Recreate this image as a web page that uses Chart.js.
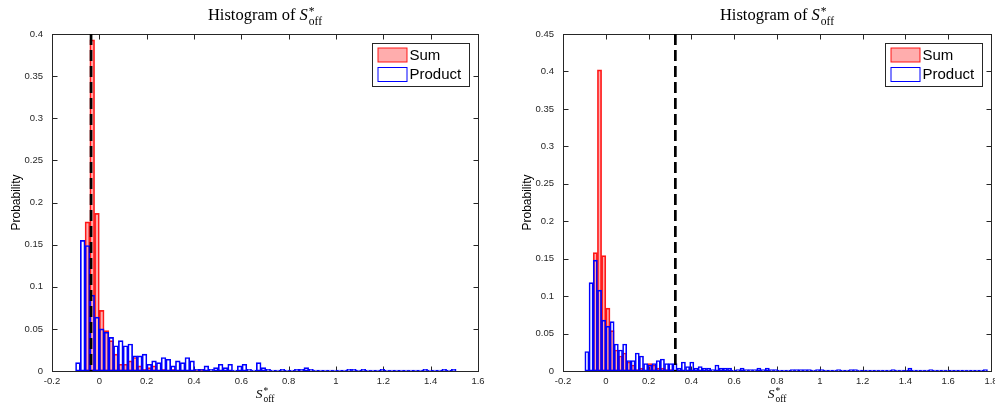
<!DOCTYPE html>
<html>
<head>
<meta charset="utf-8">
<script src="https://cdn.jsdelivr.net/npm/chart.js@4.4.1/dist/chart.umd.min.js"></script>
<style>
  body { margin: 0; background: #fff; }
  #wrap { position: relative; width: 995px; height: 404px; overflow: hidden; }
  canvas { position: absolute; top: 0; }
  .title, .xlabel { position: absolute; text-align: center; white-space: nowrap; color: #000;
    font-family: "Liberation Serif", "Times New Roman", serif; }
  .title { top: 5px; font-size: 16.5px; line-height: 20px; }
  .xlabel { top: 387px; font-size: 13.5px; line-height: 14px; }
  .ss { display: inline-block; vertical-align: -0.4em; font-size: 0.7em; line-height: 0.85; margin-left: 1px; text-align: left; }
  .ss span { display: block; }
</style>
</head>
<body>
<div id="wrap">
  <canvas id="left" width="497" height="404" style="left:0"></canvas>
  <canvas id="right" width="498" height="404" style="left:497px"></canvas>
  <div class="title" style="left:52px;width:426px">Histogram of <i>S</i><span class="ss"><span>*</span><span>off</span></span></div>
  <div class="title" style="left:563px;width:428px">Histogram of <i>S</i><span class="ss"><span>*</span><span>off</span></span></div>
  <div class="xlabel" style="left:52px;width:426px"><i>S</i><span class="ss"><span>*</span><span>off</span></span></div>
  <div class="xlabel" style="left:563px;width:428px"><i>S</i><span class="ss"><span>*</span><span>off</span></span></div>
</div>
<script>
// left panel: probability per bin, bins start at index * width
const leftBinWidth = 0.0201;
const leftSumStart = -3;
const leftSum = [0.177, 0.393, 0.187, 0.072, 0.048, 0.036, 0.020, 0.008,
  0.008, 0.012, 0.016, 0.006, 0.002, 0.004, 0.006, 0, 0.002, 0,
  0.002, 0, 0, 0, 0, 0, 0.002];
const leftProductStart = -5;
const leftProduct = [0.010, 0.155, 0.149, 0.090, 0.064,
  0.050, 0.046, 0.040, 0.030, 0.036,
  0.030, 0.032, 0.018, 0.018, 0.020,
  0.008, 0.012, 0.010, 0.016, 0.014,
  0.006, 0.012, 0.010, 0.016, 0.012,
  0.002, 0.002, 0.006, 0.002, 0.004,
  0.008, 0.004, 0.008, 0, 0.006,
  0.008, 0.002, 0, 0.010, 0.004,
  0.002, 0, 0, 0.002, 0,
  0, 0.002, 0.002, 0.004, 0.002,
  0, 0, 0, 0, 0,
  0, 0, 0.002, 0.002, 0,
  0.002, 0, 0, 0, 0.002,
  0, 0, 0, 0, 0,
  0, 0, 0, 0.002, 0,
  0, 0, 0.002, 0, 0.002];
const leftMarker = -0.035;

// right panel
const rightBinWidth = 0.0196;
const rightSumStart = -3;
const rightSum = [0.158, 0.402, 0.154, 0.084, 0.054, 0.028, 0.020, 0.024,
  0.012, 0.008, 0.002, 0.004, 0, 0.010, 0.008, 0.004, 0.004, 0.002, 0.002];
const rightProductStart = -5;
const rightProduct = [0.026, 0.118, 0.148, 0.108, 0.068,
  0.060, 0.066, 0.036, 0.028, 0.036,
  0.014, 0.014, 0.024, 0.020, 0.010,
  0.008, 0.010, 0.014, 0.016, 0.010,
  0.010, 0.010, 0.004, 0.012, 0.006,
  0.012, 0.004, 0.006, 0.004, 0.004,
  0.002, 0.008, 0.004, 0.004, 0.004,
  0, 0.002, 0.004, 0.002, 0.002,
  0.002, 0.004, 0.002, 0.004, 0.002,
  0.002, 0, 0, 0, 0.002,
  0.002, 0.002, 0.002, 0.002, 0,
  0.002, 0.002, 0, 0, 0,
  0.002, 0, 0, 0.002, 0.002,
  0, 0, 0, 0, 0,
  0, 0, 0, 0.002, 0,
  0, 0, 0.004, 0, 0,
  0, 0, 0.002, 0, 0,
  0, 0, 0, 0, 0,
  0, 0, 0, 0, 0,
  0.002];
const rightMarker = 0.325;

const sansFont = '"Liberation Sans", Helvetica, Arial, sans-serif';
const axisColor = '#262626';
const shortNum = v => String(Number(v.toFixed(2)));

// box, inward ticks and the legend, MATLAB style
const frame = {
  id: 'frame',
  beforeDatasetsDraw(chart) {
    const { ctx, chartArea: a, scales: { x, y } } = chart;
    ctx.save();
    ctx.strokeStyle = axisColor;
    ctx.lineWidth = 1;
    const l = Math.round(a.left) + 0.5, r = Math.round(a.right) + 0.5;
    const t = Math.round(a.top) + 0.5, b = Math.round(a.bottom) + 0.5;
    ctx.strokeRect(l, t, r - l, b - t);
    ctx.beginPath();
    x.ticks.forEach(tk => {
      const px = Math.round(x.getPixelForValue(tk.value)) + 0.5;
      ctx.moveTo(px, b); ctx.lineTo(px, b - 5);
      ctx.moveTo(px, t); ctx.lineTo(px, t + 5);
    });
    y.ticks.forEach(tk => {
      const py = Math.round(y.getPixelForValue(tk.value)) + 0.5;
      ctx.moveTo(l, py); ctx.lineTo(l + 5, py);
      ctx.moveTo(r, py); ctx.lineTo(r - 5, py);
    });
    ctx.stroke();
    ctx.restore();
  },
  afterDraw(chart) {
    const { ctx, chartArea: a } = chart;
    const w = 97, h = 43;
    const bx = Math.round(a.right - 9.5 - w) + 0.5, by = Math.round(a.top + 9) + 0.5;
    ctx.save();
    ctx.fillStyle = '#fff';
    ctx.fillRect(bx, by, w, h);
    ctx.strokeStyle = axisColor;
    ctx.lineWidth = 1;
    ctx.strokeRect(bx, by, w, h);
    ['Sum', 'Product'].forEach((name, i) => {
      const ds = chart.data.datasets.find(d => d.label === name);
      const sy = by + 4.5 + i * 19.5;
      ctx.fillStyle = ds.backgroundColor === 'rgba(0,0,0,0)' ? '#fff' : ds.backgroundColor;
      ctx.fillRect(bx + 5.5, sy, 29, 14);
      ctx.strokeStyle = ds.borderColor;
      ctx.strokeRect(bx + 5.5, sy, 29, 14);
      ctx.fillStyle = '#000';
      ctx.font = '15px ' + sansFont;
      ctx.textBaseline = 'middle';
      ctx.fillText(name, bx + 37, sy + 7.5);
    });
    ctx.restore();
  }
};

function toBins(values, start, width) {
  return values.map((p, i) => ({ x: (start + i + 0.5) * width, y: p }));
}

function histChart(id, o) {
  return new Chart(document.getElementById(id), {
    type: 'bar',
    data: {
      datasets: [
        { type: 'line', label: 'marker', data: [{ x: o.marker, y: o.yMax }, { x: o.marker, y: 0 }],
          borderColor: '#000', borderWidth: 2.7, borderDash: [11, 5], pointRadius: 0, order: 0 },
        { label: 'Product', data: toBins(o.product, o.productStart, o.binWidth),
          backgroundColor: 'rgba(0,0,0,0)', borderColor: '#0000ff', borderWidth: 1, order: 1 },
        { label: 'Sum', data: toBins(o.sum, o.sumStart, o.binWidth),
          backgroundColor: 'rgba(255,0,0,0.32)', borderColor: 'rgba(255,0,0,0.9)', borderWidth: 1, order: 2 }
      ]
    },
    options: {
      responsive: false,
      animation: false,
      devicePixelRatio: 1,
      layout: { padding: { left: o.padLeft, top: 34, right: o.padRight, bottom: 0 } },
      datasets: {
        bar: { grouped: false, barPercentage: 1, categoryPercentage: 1, borderSkipped: false, minBarLength: 1 }
      },
      plugins: { legend: { display: false }, tooltip: { enabled: false } },
      scales: {
        x: {
          type: 'linear', min: -0.2, max: o.xMax, offset: false,
          grid: { display: false, drawTicks: false }, border: { display: false },
          ticks: { stepSize: 0.2, autoSkip: false, maxRotation: 0, padding: 5, color: axisColor,
                   font: { family: sansFont, size: 9.5 }, callback: shortNum },
          afterFit: s => { s.height = 33; s.paddingLeft = 0; s.paddingRight = 0; }
        },
        y: {
          min: 0, max: o.yMax,
          grid: { display: false, drawTicks: false }, border: { display: false },
          ticks: { stepSize: 0.05, padding: 9, color: axisColor, font: { family: sansFont, size: 9.5 },
                   callback: shortNum },
          title: { display: true, text: 'Probability', padding: 0, color: '#000', font: { family: sansFont, size: 12 } },
          afterFit: s => { s.width = 43; }
        }
      }
    },
    plugins: [frame]
  });
}

histChart('left', {
  binWidth: leftBinWidth, sum: leftSum, sumStart: leftSumStart,
  product: leftProduct, productStart: leftProductStart, marker: leftMarker,
  xMax: 1.6, yMax: 0.4, padLeft: 9, padRight: 19
});
histChart('right', {
  binWidth: rightBinWidth, sum: rightSum, sumStart: rightSumStart,
  product: rightProduct, productStart: rightProductStart, marker: rightMarker,
  xMax: 1.8, yMax: 0.45, padLeft: 23, padRight: 4
});
</script>
</body>
</html>
